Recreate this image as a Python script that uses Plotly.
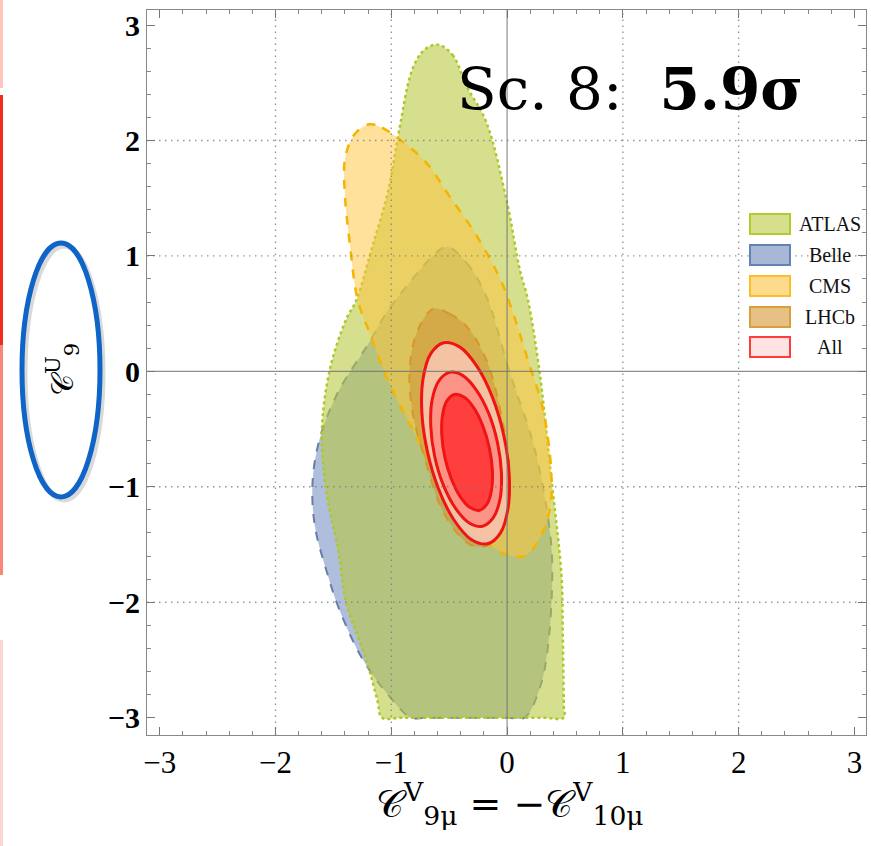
import plotly.graph_objects as go

# ---------------------------------------------------------------------------
# Confidence-region outlines in the (C9mu^V = -C10mu^V , C9^U) plane
# ---------------------------------------------------------------------------
atlas_x = [-0.60, -0.47, -0.35, -0.18, 0.00, 0.11, 0.18, 0.28, 0.37, 0.47, 0.48, 0.49, 0.49,
           0.30, -0.90, -1.08, -1.12, -1.21, -1.39, -1.46, -1.56, -1.60, -1.53, -1.39, -1.30,
           -1.17, -1.03, -0.93, -0.82, -0.72, -0.60]
atlas_y = [2.83, 2.74, 2.47, 2.16, 1.46, 0.88, 0.62, 0.00, -0.82, -1.77, -2.20, -2.90, -3.00,
           -3.00, -3.00, -3.00, -2.85, -2.52, -2.00, -1.54, -1.05, -0.53, 0.02, 0.45, 0.62,
           1.06, 1.55, 2.10, 2.61, 2.78, 2.83]

belle_x = [-0.52, -0.35, -0.18, 0.02, 0.24, 0.37, 0.39, 0.35, 0.28, 0.15, 0.00, -0.70, -0.83,
           -1.02, -1.25, -1.45, -1.55, -1.66, -1.68, -1.62, -1.46, -1.21, -1.02, -0.84, -0.66,
           -0.52]
belle_y = [1.08, 0.94, 0.65, 0.00, -0.68, -1.39, -1.77, -2.41, -2.75, -3.00, -3.00, -3.00, -3.00,
           -2.81, -2.49, -2.06, -1.76, -1.34, -0.96, -0.59, -0.18, 0.22, 0.54, 0.77, 0.98,
           1.08]

cms_x = [-1.19, -1.08, -0.93, -0.70, -0.50, -0.26, -0.06, 0.04, 0.17, 0.31, 0.38, 0.37, 0.28,
         0.15, -0.02, -0.18, -0.47, -0.76, -1.02, -1.19, -1.29, -1.36, -1.40, -1.40, -1.32,
         -1.19]
cms_y = [2.14, 2.11, 2.01, 1.81, 1.52, 1.17, 0.80, 0.54, 0.13, -0.33, -0.85, -1.19, -1.45,
         -1.60, -1.58, -1.48, -1.17, -0.61, -0.10, 0.34, 0.62, 1.12, 1.52, 1.84, 2.05,
         2.14]

lhcb_x = [-0.64, -0.50, -0.35, -0.18, -0.06, 0.02, -0.02, -0.15, -0.32, -0.54, -0.71, -0.82,
          -0.84, -0.77, -0.64]
lhcb_y = [0.54, 0.50, 0.39, 0.10, -0.33, -0.85, -1.28, -1.50, -1.50, -1.24, -0.76, -0.33,
          0.04, 0.36, 0.54]

# combined fit: 3 nested contours (outer -> inner)
all3_x = [-0.169, -0.058, 0.008, 0.018, -0.029, -0.127, -0.260, -0.407, -0.548, -0.659,
          -0.725, -0.736, -0.688, -0.590, -0.457, -0.310, -0.169]
all3_y = [-1.494, -1.401, -1.188, -0.890, -0.552, -0.223, 0.043, 0.210, 0.248, 0.154,
          -0.059, -0.357, -0.695, -1.023, -1.290, -1.456, -1.494]
all2_x = [-0.212, -0.119, -0.061, -0.049, -0.083, -0.158, -0.264, -0.382, -0.497, -0.589,
          -0.647, -0.659, -0.626, -0.551, -0.445, -0.327, -0.212]
all2_y = [-1.342, -1.268, -1.106, -0.877, -0.617, -0.366, -0.164, -0.037, -0.009, -0.082,
          -0.245, -0.474, -0.733, -0.984, -1.187, -1.313, -1.342]
all1_x = [-0.238, -0.173, -0.134, -0.127, -0.154, -0.210, -0.286, -0.372, -0.454, -0.519,
          -0.557, -0.564, -0.538, -0.481, -0.405, -0.320, -0.238]
all1_y = [-1.203, -1.149, -1.026, -0.855, -0.660, -0.471, -0.318, -0.223, -0.200, -0.254,
          -0.377, -0.547, -0.743, -0.932, -1.085, -1.180, -1.203]

legend_names = ["ATLAS", "Belle", "CMS", "LHCb", "All"]
tick_vals = [-3, -2, -1, 0, 1, 2, 3]
grid_vals = [-2, -1, 1, 2]

# styles
fills = {
    "ATLAS": "rgba(185,200,60,0.58)",
    "Belle": "rgba(95,125,185,0.50)",
    "CMS": "rgba(255,195,55,0.50)",
    "LHCb": "rgba(205,140,50,0.45)",
}
edges = {
    "ATLAS": ("rgb(175,200,40)", "dot", 2.5),
    "Belle": ("rgb(105,125,165)", "dash", 2),
    "CMS": ("rgb(245,180,0)", "dash", 2.5),
    "LHCb": ("rgb(215,150,40)", "dash", 2),
}
swatch_fill = ["rgb(214,224,140)", "rgb(167,184,215)", "rgb(253,218,140)",
               "rgb(230,192,132)", "rgb(255,226,226)"]
swatch_edge = ["rgb(180,200,50)", "rgb(100,130,180)", "rgb(250,190,40)",
               "rgb(215,160,60)", "rgb(255,60,60)"]

fig = go.Figure()

regions = [("Belle", belle_x, belle_y), ("ATLAS", atlas_x, atlas_y),
           ("CMS", cms_x, cms_y), ("LHCb", lhcb_x, lhcb_y)]
for name, xs, ys in regions:
    col, dash, w = edges[name]
    fig.add_trace(go.Scatter(
        x=xs, y=ys, mode="lines", fill="toself", fillcolor=fills[name],
        line=dict(color=col, width=w, dash=dash, shape="spline", smoothing=1.0),
        name=name, showlegend=False, hoverinfo="skip"))

for xs, ys, fc in [(all3_x, all3_y, "rgba(255,205,200,0.72)"),
                   (all2_x, all2_y, "rgba(255,120,118,0.62)"),
                   (all1_x, all1_y, "rgba(255,40,40,0.78)")]:
    fig.add_trace(go.Scatter(
        x=xs, y=ys, mode="lines", fill="toself", fillcolor=fc,
        line=dict(color="rgb(240,20,20)", width=3, shape="spline", smoothing=1.0),
        name="All", showlegend=False, hoverinfo="skip"))

# plot-area geometry (pixels) used for paper-space decorations
W, H = 871, 846
L, R, T, B = 147, 866, 10, 735


def pxx(px):
    return (px - L) / (R - L)


def pxy(py):
    return (B - py) / (B - T)


shapes = []
# dotted grid and solid axes through the origin
grid_line = dict(color="rgba(125,125,125,0.8)", width=1.4, dash="1.5px,4.5px")
for v in grid_vals:
    shapes.append(dict(type="line", xref="x", yref="y domain", x0=v, x1=v, y0=0, y1=1,
                       line=grid_line, layer="above"))
    shapes.append(dict(type="line", xref="x domain", yref="y", x0=0, x1=1, y0=v, y1=v,
                       line=grid_line, layer="above"))
shapes.append(dict(type="line", xref="x", yref="y domain", x0=0, x1=0, y0=0, y1=1,
                   line=dict(color="rgba(115,115,115,0.8)", width=1.2), layer="above"))
shapes.append(dict(type="line", xref="x domain", yref="y", x0=0, x1=1, y0=0, y1=0,
                   line=dict(color="rgba(115,115,115,0.8)", width=1.2), layer="above"))

# legend swatches
row_y = [224, 255, 286, 317, 347]
for i, name in enumerate(legend_names):
    shapes.append(dict(type="rect", xref="paper", yref="paper",
                       x0=pxx(750), x1=pxx(790), y0=pxy(row_y[i] + 10), y1=pxy(row_y[i] - 10),
                       fillcolor=swatch_fill[i], line=dict(color=swatch_edge[i], width=2),
                       layer="above"))

# hand-drawn style ring around the vertical axis title
shapes.append(dict(type="circle", xref="paper", yref="paper",
                   x0=pxx(25), x1=pxx(103), y0=pxy(500), y1=pxy(246),
                   line=dict(color="rgba(0,0,0,0.15)", width=5)))
shapes.append(dict(type="circle", xref="paper", yref="paper",
                   x0=pxx(22), x1=pxx(100), y0=pxy(497), y1=pxy(243),
                   line=dict(color="rgb(15,100,200)", width=5)))

# red edge stripe at the far left
for y0, y1, col in [(0, 88, "rgba(250,90,70,0.35)"), (95, 345, "rgb(240,45,25)"),
                    (345, 575, "rgba(245,70,50,0.65)"), (640, 846, "rgba(250,90,70,0.25)")]:
    shapes.append(dict(type="line", xref="paper", yref="paper",
                       x0=pxx(1.5), x1=pxx(1.5), y0=pxy(y1), y1=pxy(y0),
                       line=dict(color=col, width=3)))

annotations = []
for i, name in enumerate(legend_names):
    annotations.append(dict(xref="paper", yref="paper", x=pxx(830), y=pxy(row_y[i]),
                            text=name, showarrow=False, xanchor="center", yanchor="middle",
                            font=dict(family="Liberation Serif", size=20, color="#111")))

annotations.append(dict(xref="paper", yref="paper", x=pxx(455), y=pxy(89),
                        text="Sc. 8:  <b>5.9σ</b>", showarrow=False,
                        xanchor="left", yanchor="middle",
                        font=dict(family="DejaVu Serif", size=58, color="black")))

annotations.append(dict(xref="paper", yref="paper", x=pxx(510), y=pxy(803),
                        text="𝒞<sup>V</sup><sub>9μ</sub> = −𝒞<sup>V</sup><sub>10μ</sub>",
                        showarrow=False, xanchor="center", yanchor="middle",
                        font=dict(family="DejaVu Serif", size=38, color="black")))

annotations.append(dict(xref="paper", yref="paper", x=pxx(62), y=pxy(370),
                        text="𝒞<sup>U</sup><sub>9</sub>", textangle=-90,
                        showarrow=False, xanchor="center", yanchor="middle",
                        font=dict(family="DejaVu Serif", size=30, color="black")))

axis_common = dict(
    tickvals=tick_vals,
    ticks="inside", ticklen=8, tickwidth=1, tickcolor="#777",
    minor=dict(dtick=0.2, ticks="inside", ticklen=4, tickcolor="#888", showgrid=False),
    showgrid=False, zeroline=False,
    showline=True, linecolor="#888", linewidth=1.2, mirror="ticks",
)

fig.update_layout(
    width=W, height=H,
    margin=dict(l=L, r=W - R, t=T, b=H - B),
    paper_bgcolor="white", plot_bgcolor="white",
    showlegend=False,
    xaxis=dict(range=[-3.11, 3.10], **axis_common,
               tickfont=dict(family="Liberation Serif", size=31, color="black")),
    yaxis=dict(range=[-3.15, 3.13], **axis_common,
               tickfont=dict(family="Liberation Serif", size=30, color="black", weight="bold")),
    shapes=shapes,
    annotations=annotations,
)

fig.write_html("out.html")
